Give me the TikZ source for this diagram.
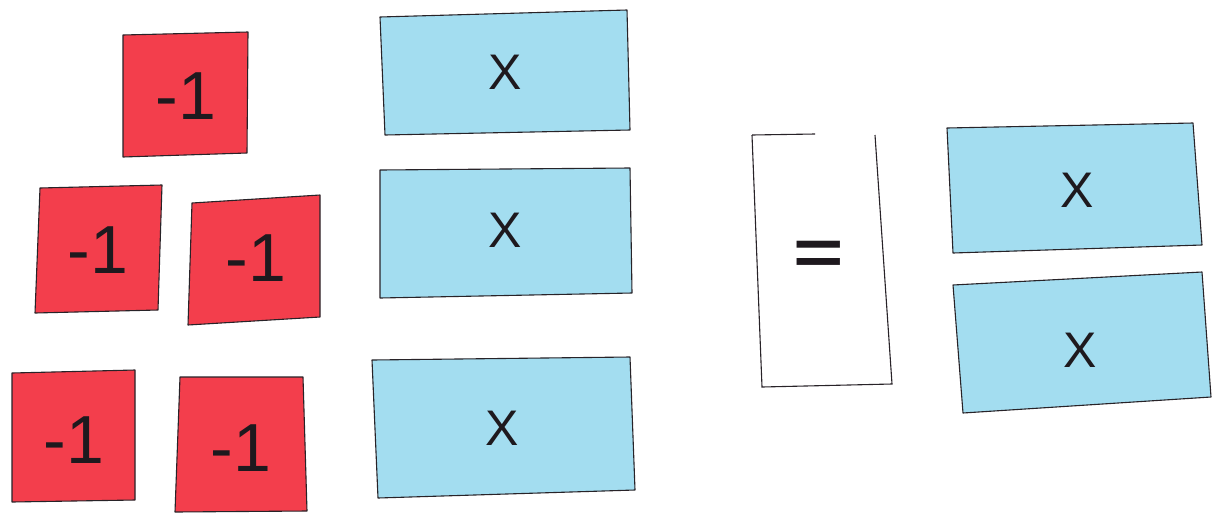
\documentclass[tikz,border=0pt]{standalone}
\usepackage{fontspec}
\setmainfont{Liberation Sans}
\definecolor{tilered}{RGB}{243,62,76}
\definecolor{tileblue}{RGB}{163,221,240}
\definecolor{ink}{RGB}{30,25,30}
\definecolor{edge}{RGB}{40,35,40}
\tikzset{
  redtile/.style={fill=tilered, draw=edge, line width=1.1pt, line join=round},
  bluetile/.style={fill=tileblue, draw=edge, line width=1.1pt, line join=round},
  whitetile/.style={fill=white, draw=edge, line width=1.1pt},
  neglabel/.style={text=ink, font=\fontsize{68}{68}\selectfont, inner sep=0pt},
  xlabel/.style={text=ink, font=\fontsize{50}{50}\selectfont, inner sep=0pt},
}
\begin{document}
\begin{tikzpicture}[x=1pt,y=-1pt]
\useasboundingbox[fill=white] (0,0) rectangle (1212,512);
% red unit tiles
\draw[redtile] (123,35) -- (248,32) -- (247,153) -- (123,157) -- cycle;
\draw[redtile] (40,188) -- (162,185) -- (158,310) -- (35,313) -- cycle;
\draw[redtile] (192,203) -- (320,195) -- (320,317) -- (188,325) -- cycle;
\draw[redtile] (12,373) -- (135,370) -- (135,500) -- (12,502) -- cycle;
\draw[redtile] (180,377) -- (303,377) -- (307,511) -- (175,512) -- cycle;
\node[neglabel] (r1) at (186,96) {-1};
\node[neglabel] (r2) at (98,250) {-1};
\node[neglabel] (r3) at (256,258) {-1};
\node[neglabel] (r4) at (74,440) {-1};
\node[neglabel] (r5) at (241,448) {-1};
% blue x tiles
\draw[bluetile] (380,17) -- (627,10) -- (630,130) -- (385,135) -- cycle;
\draw[bluetile] (380,170) -- (630,168) -- (632,293) -- (380,298) -- cycle;
\draw[bluetile] (372,360) -- (630,357) -- (635,490) -- (378,498) -- cycle;
\draw[bluetile] (947,128) -- (1193,123) -- (1202,245) -- (953,253) -- cycle;
\draw[bluetile] (953,285) -- (1202,272) -- (1211,397) -- (963,413) -- cycle;
\node[xlabel] (b1) at (505,72) {X};
\node[xlabel] (b2) at (505,230) {X};
\node[xlabel] (b3) at (502,428) {X};
\node[xlabel] (b4) at (1077,190) {X};
\node[xlabel] (b5) at (1080,350) {X};
% equals tile
\fill[white] (752,135) -- (875,135) -- (892,384) -- (762,387) -- cycle;
\draw[edge, line width=1.1pt] (752,135) -- (815,134);
\draw[edge, line width=1.1pt] (875,135) -- (892,384) -- (762,387) -- (752,135);
\node[text=ink, font=\bfseries\fontsize{64}{64}\selectfont, inner sep=0pt, xscale=1.35] (eq) at (819,258) {=};
\end{tikzpicture}
\end{document}
